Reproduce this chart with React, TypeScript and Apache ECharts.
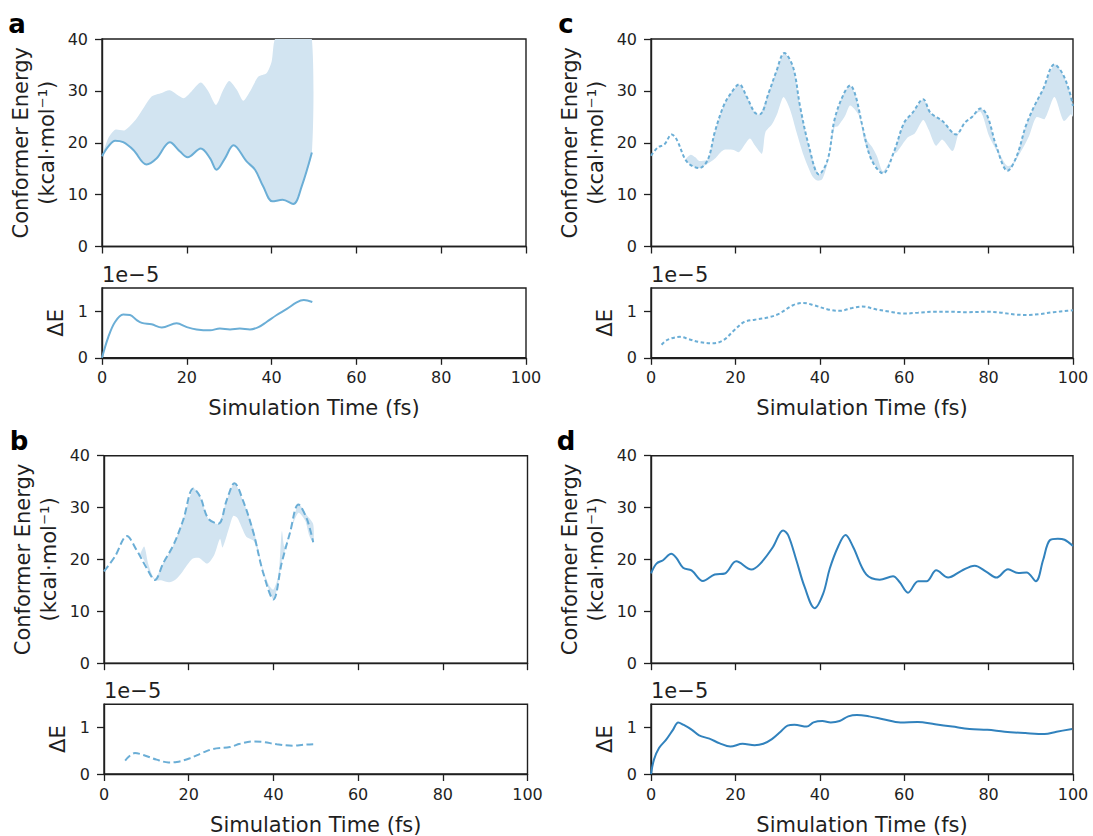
import React, { useEffect, useRef } from "react";
import * as echarts from "echarts";

// ---------- data (time in fs, energy in kcal/mol, ΔE in units of 1e-5) ----------
const xTicks = [0, 20, 40, 60, 80, 100];
const energyTicks = [0, 10, 20, 30, 40];
const deltaTicks = [0, 1];

// panel a
const aTime = [0, 1.5, 3.1, 5.0, 7.4, 10.5, 12.9, 16.0, 18.4, 20.2, 23.3, 25.5, 27.0, 29.0, 31.0, 34.1, 36.1, 38.0, 40.2, 42.6, 45.1, 47.1, 49.5];
const aMean = [17.4, 19.3, 20.4, 20.1, 18.6, 15.8, 17.0, 20.1, 18.3, 17.2, 18.9, 17.0, 14.8, 17.0, 19.5, 16.4, 14.8, 11.6, 8.7, 9.0, 8.2, 11.6, 18.1];
const aBandTime = [0, 1.5, 3.1, 5.4, 8.2, 11.7, 14.1, 16.0, 19.2, 21.1, 23.3, 25.1, 26.9, 28.6, 30.0, 31.8, 33.3, 34.9, 36.9, 38.8, 40.0, 40.8, 42.6, 45.1, 47.1, 49.5];
const aBandHigh = [17.4, 20.9, 22.5, 22.4, 24.7, 28.9, 29.6, 30.1, 28.6, 29.9, 31.6, 29.9, 27.3, 30.2, 31.9, 30.2, 28.1, 29.9, 32.75, 33.4, 35.6, 40, 40, 40, 40, 40];
const aDeTime = [0, 1.5, 3.07, 5.0, 6.6, 8.2, 9.4, 11.7, 14.1, 17.6, 20.0, 22.3, 25.5, 27.8, 30.2, 32.5, 34.9, 36.9, 38.8, 41.2, 43.6, 45.9, 47.6, 49.6];
const aDe = [0.0, 0.45, 0.77, 0.93, 0.92, 0.81, 0.75, 0.72, 0.65, 0.74, 0.66, 0.61, 0.59, 0.63, 0.61, 0.63, 0.61, 0.66, 0.77, 0.92, 1.05, 1.19, 1.24, 1.2];

// panel b
const bTime = [0, 2.6, 5.4, 7.7, 10.1, 12.0, 14.0, 16.4, 18.7, 21.1, 22.7, 24.6, 27.0, 29.0, 30.8, 32.9, 35.3, 37.6, 40.0, 41.95, 43.9, 45.9, 47.9, 49.4];
const bMean = [17.7, 20.6, 24.5, 21.8, 18.3, 16.05, 19.3, 22.8, 27.6, 33.7, 32.1, 27.9, 26.9, 31.5, 34.7, 31.2, 25.1, 17.4, 12.3, 19.3, 25.1, 30.6, 27.8, 23.3];
const bBandHiTime = [8.5, 9.5, 10.5, 12.0, 14.0, 16.4, 18.7, 21.1, 22.7, 24.6, 27.0, 29.0, 30.8, 32.9, 35.3, 37.6, 39.0, 40.0, 41.2, 42.0, 42.6, 43.9, 45.9, 47.9, 49.4];
const bBandHi = [21.0, 22.5, 19.0, 16.3, 19.3, 22.8, 27.6, 33.7, 32.1, 27.9, 26.9, 31.5, 34.7, 31.2, 25.8, 18.0, 15.0, 14.2, 17.0, 25.5, 22.5, 25.1, 30.6, 28.5, 26.8];
const bBandLoTime = [8.5, 9.5, 10.5, 12.0, 13.5, 15.4, 17.0, 18.5, 19.5, 21.0, 22.5, 24.4, 26.0, 27.4, 28.0, 29.5, 30.5, 31.5, 33.6, 35.3, 36.5, 37.6, 38.8, 40.0, 41.0, 41.95, 43.9, 45.9, 47.5, 48.5, 49.4];
const bBandLo = [21.0, 19.8, 17.8, 16.0, 16.0, 15.6, 16.2, 17.6, 18.8, 20.2, 20.3, 19.2, 20.8, 24.0, 22.3, 26.0, 28.4, 28.0, 24.4, 23.6, 21.0, 17.4, 14.5, 12.3, 14.8, 19.3, 25.1, 29.0, 27.5, 24.5, 23.3];
const bDeTime = [5.0, 7.3, 9.3, 12.4, 15.2, 17.2, 20.3, 23.1, 25.8, 29.75, 32.1, 35.3, 37.6, 40.8, 44.7, 47.1, 49.4];
const bDe = [0.29, 0.45, 0.41, 0.31, 0.25, 0.26, 0.34, 0.45, 0.54, 0.58, 0.65, 0.7, 0.69, 0.64, 0.61, 0.63, 0.64];

// panel c
const cTime = [0, 1.6, 3.2, 4.9, 6.1, 8.1, 9.4, 11.4, 13.5, 15.1, 17.2, 18.9, 20.9, 22.6, 24.6, 25.8, 27.9, 29.6, 31.6, 33.7, 35.3, 37.4, 39.8, 41.9, 43.5, 45.6, 47.2, 48.5, 50.1, 52.2, 55.0, 57.5, 60.0, 62.0, 64.5, 66.2, 69.05, 72.3, 74.4, 76.0, 78.1, 79.7, 81.8, 84.5, 86.7, 88.8, 90.85, 92.9, 95.6, 97.4, 99.0, 100];
const cMean = [17.5, 19.1, 19.7, 21.6, 20.6, 16.8, 15.7, 15.1, 16.8, 22.0, 27.1, 29.5, 31.25, 29.0, 25.8, 25.5, 29.65, 33.5, 37.3, 34.5, 27.1, 19.4, 13.9, 16.8, 24.5, 29.3, 31.05, 29.0, 23.2, 16.8, 14.1, 18.1, 23.9, 25.8, 28.4, 25.8, 24.2, 21.6, 23.9, 24.9, 26.6, 25.2, 19.4, 14.6, 17.5, 23.2, 27.1, 30.3, 35.1, 33.5, 30.3, 27.1];
const cBandHiTime = [8.1, 9.4, 10.5, 11.4, 13.5, 15.1, 17.2, 18.9, 20.9, 22.6, 24.6, 25.8, 27.9, 29.6, 31.6, 33.7, 35.3, 37.4, 39.8, 41.9, 43.5, 45.6, 47.2, 48.5, 50.1, 51.2, 52.4, 53.5, 55.0, 57.5, 60.0, 62.0, 64.5, 66.2, 69.05, 72.3, 74.4, 76.0, 78.1, 79.7, 81.8, 83.5, 84.5, 85.5, 86.7, 88.8, 90.85, 92.9, 95.6, 97.4, 99.0, 100];
const cBandHi = [16.8, 17.7, 17.2, 16.5, 16.8, 22.0, 27.1, 29.5, 31.25, 29.0, 25.8, 25.5, 29.65, 33.5, 37.3, 34.5, 27.1, 19.4, 13.9, 16.8, 24.5, 29.3, 31.05, 29.0, 23.2, 20.5, 19.2, 17.5, 14.5, 18.1, 23.9, 25.8, 28.4, 25.8, 24.2, 21.6, 23.9, 24.9, 26.6, 25.2, 19.4, 16.5, 15.5, 15.8, 17.5, 23.2, 27.1, 30.3, 35.1, 33.5, 30.3, 27.1];
const cBandLoTime = [8.1, 9.4, 11.4, 13.5, 15.1, 17.2, 19.6, 20.9, 23.4, 24.6, 26.3, 27.1, 28.7, 30.0, 31.4, 32.9, 34.5, 36.2, 38.2, 39.4, 40.6, 41.9, 43.5, 44.3, 46.0, 47.2, 49.3, 50.5, 52.2, 55.0, 57.5, 58.3, 60.8, 62.5, 64.5, 65.8, 67.5, 69.05, 71.5, 72.8, 74.4, 76.0, 78.1, 80.1, 81.8, 84.5, 87.1, 89.6, 91.3, 93.3, 95.6, 97.8, 99.5, 100];
const cBandLo = [16.8, 15.7, 15.1, 16.0, 16.9, 18.6, 18.6, 18.2, 20.8, 19.5, 17.9, 22.0, 23.6, 25.8, 28.8, 26.5, 22.0, 17.5, 13.6, 12.7, 13.0, 16.3, 23.0, 23.2, 25.2, 27.2, 25.2, 20.6, 16.8, 14.1, 17.8, 18.2, 21.0, 21.8, 24.4, 22.5, 19.4, 20.6, 18.4, 21.6, 23.9, 24.9, 26.0, 21.3, 18.6, 14.6, 17.5, 21.3, 24.9, 24.6, 28.8, 24.2, 25.5, 25.0];
const cDeTime = [2.5, 4.0, 6.9, 9.0, 11.4, 14.7, 17.2, 19.7, 22.1, 24.6, 27.9, 30.4, 33.65, 36.1, 38.6, 41.9, 44.8, 47.65, 50.1, 53.4, 56.7, 60.0, 63.3, 67.4, 70.7, 74.8, 79.7, 83.0, 86.3, 89.2, 92.1, 95.4, 98.7, 100];
const cDe = [0.28, 0.39, 0.45, 0.4, 0.34, 0.31, 0.38, 0.59, 0.77, 0.82, 0.87, 0.95, 1.13, 1.18, 1.13, 1.04, 1.01, 1.07, 1.1, 1.04, 0.99, 0.95, 0.97, 0.99, 0.99, 0.98, 0.99, 0.97, 0.93, 0.92, 0.94, 0.98, 1.01, 1.02];

// panel d
const dTime = [0, 1.3, 2.85, 4.8, 6.0, 7.6, 9.6, 12.3, 15.1, 17.5, 20.2, 23.8, 25.8, 28.9, 31.3, 32.5, 34.45, 36.4, 38.8, 40.8, 42.35, 44.3, 46.1, 47.9, 51.0, 54.2, 57.35, 58.9, 60.9, 63.3, 65.3, 67.6, 70.4, 73.55, 76.7, 79.5, 81.85, 84.6, 87.0, 89.0, 91.2, 92.9, 94.5, 96.4, 98.0, 100];
const dMean = [17.3, 19.2, 19.85, 21.1, 20.3, 18.4, 17.9, 15.85, 17.1, 17.3, 19.65, 18.05, 19.1, 22.4, 25.6, 24.7, 19.85, 14.7, 10.6, 13.4, 18.2, 22.4, 24.7, 22.4, 17.1, 16.1, 16.75, 15.65, 13.6, 15.8, 15.8, 17.9, 16.5, 17.8, 18.8, 17.6, 16.5, 18.1, 17.4, 17.5, 15.8, 19.85, 23.7, 24.0, 23.8, 22.6];
const dDeTime = [0, 0.7, 1.9, 3.6, 5.2, 6.45, 7.65, 9.7, 11.4, 13.85, 16.3, 18.8, 21.7, 24.55, 26.6, 28.65, 30.7, 32.35, 34.0, 36.9, 38.5, 40.6, 42.6, 44.7, 46.75, 48.8, 51.7, 55.0, 59.1, 63.2, 67.3, 71.4, 75.5, 79.7, 83.8, 88.7, 93.25, 96.1, 99.8];
const dDe = [0.0, 0.31, 0.56, 0.74, 0.95, 1.11, 1.06, 0.95, 0.83, 0.76, 0.66, 0.59, 0.65, 0.62, 0.65, 0.75, 0.91, 1.04, 1.06, 1.02, 1.11, 1.14, 1.11, 1.14, 1.24, 1.27, 1.24, 1.18, 1.11, 1.12, 1.07, 1.02, 0.97, 0.95, 0.91, 0.88, 0.86, 0.91, 0.97];

// ---------- styling / layout ----------
const FONT = "DejaVu Sans";
const INK = "#1f1f1f";
const LIGHT = "#6baed6";
const DARK = "#3182bd";
const BAND = "#d2e4f1";

const zip = (t: number[], v: number[]) => t.map((x, i) => [x, v[i]]);

type Panel = {
  letter: string;
  left: number;
  width: number;
  top: number;
  deTop: number;
  color: string;
  dash: number[] | "solid";
  time: number[];
  mean: number[];
  deTime: number[];
  de: number[];
  band?: { hiT: number[]; hi: number[]; loT: number[]; lo: number[] };
};

const panels: Panel[] = [
  { letter: "a", left: 102, width: 424, top: 39, deTop: 288, color: LIGHT, dash: "solid", time: aTime, mean: aMean, deTime: aDeTime, de: aDe,
    band: { hiT: aBandTime, hi: aBandHigh, loT: aTime, lo: aMean } },
  { letter: "b", left: 104, width: 423.5, top: 455.7, deTop: 704.3, color: LIGHT, dash: [7, 3.5], time: bTime, mean: bMean, deTime: bDeTime, de: bDe,
    band: { hiT: bBandHiTime, hi: bBandHi, loT: bBandLoTime, lo: bBandLo } },
  { letter: "c", left: 651, width: 422, top: 39, deTop: 288, color: LIGHT, dash: [3.5, 2.5], time: cTime, mean: cMean, deTime: cDeTime, de: cDe,
    band: { hiT: cBandHiTime, hi: cBandHi, loT: cBandLoTime, lo: cBandLo } },
  { letter: "d", left: 651, width: 422, top: 455.7, deTop: 704.3, color: DARK, dash: "solid", time: dTime, mean: dMean, deTime: dDeTime, de: dDe },
];

function buildOption() {
  const grid: any[] = [];
  const xAxis: any[] = [];
  const yAxis: any[] = [];
  const series: any[] = [];
  const graphic: any[] = [];

  const axisLine = { show: true, lineStyle: { color: INK, width: 1.4 } };
  const axisTick = (vals: number[]) => ({ show: true, inside: false, length: 7, lineStyle: { color: INK, width: 1.3 }, customValues: vals });

  panels.forEach((p) => {
    const gTop = grid.length;
    grid.push({ left: p.left, width: p.width, top: p.top, height: 207.5, show: true, borderColor: INK, borderWidth: 1.4, backgroundColor: "transparent" });
    const gDe = grid.length;
    grid.push({ left: p.left, width: p.width, top: p.deTop, height: 69.8, show: true, borderColor: INK, borderWidth: 1.4, backgroundColor: "transparent" });

    xAxis.push({ gridIndex: gTop, type: "value", min: 0, max: 100, interval: 20, axisLine, axisTick: axisTick(xTicks), axisLabel: { show: false }, splitLine: { show: false } });
    xAxis.push({
      gridIndex: gDe, type: "value", min: 0, max: 100, interval: 20, axisLine, axisTick: axisTick(xTicks),
      axisLabel: { show: true, customValues: xTicks, fontSize: 16, color: INK, margin: 12, fontFamily: FONT },
      splitLine: { show: false },
      name: "Simulation Time (fs)", nameLocation: "middle", nameGap: 40,
      nameTextStyle: { fontSize: 21, color: INK, fontFamily: FONT },
    });
    yAxis.push({
      gridIndex: gTop, type: "value", min: 0, max: 40, interval: 10, axisLine, axisTick: axisTick(energyTicks),
      axisLabel: { show: true, customValues: energyTicks, fontSize: 16, color: INK, margin: 14, fontFamily: FONT },
      splitLine: { show: false },
      name: "Conformer Energy\n(kcal·mol⁻¹)", nameLocation: "middle", nameGap: 42, nameRotate: 90,
      nameTextStyle: { fontSize: 21, lineHeight: 26, color: INK, fontFamily: FONT, align: "center" },
    });
    yAxis.push({
      gridIndex: gDe, type: "value", min: 0, max: 1.5, interval: 1, axisLine, axisTick: axisTick(deltaTicks),
      axisLabel: { show: true, customValues: deltaTicks, fontSize: 16, color: INK, margin: 14, fontFamily: FONT,
        formatter: (v: number) => (Number.isInteger(v) ? String(v) : "") },
      splitLine: { show: false },
      name: "ΔE", nameLocation: "middle", nameGap: 36, nameRotate: 90,
      nameTextStyle: { fontSize: 21, color: INK, fontFamily: FONT },
    });

    if (p.band) {
      const b = p.band;
      series.push({
        type: "custom", xAxisIndex: gTop, yAxisIndex: gTop, silent: true, z: 1,
        data: [[b.hiT[0], b.hi[0]]],
        renderItem: (params: any, api: any) => {
          const pts: number[][] = [];
          b.hiT.forEach((t, i) => pts.push(api.coord([t, b.hi[i]])));
          for (let i = b.loT.length - 1; i >= 0; i--) pts.push(api.coord([b.loT[i], b.lo[i]]));
          const cs = params.coordSys;
          return {
            type: "group",
            clipPath: { type: "rect", shape: { x: cs.x, y: cs.y, width: cs.width, height: cs.height } },
            children: [{ type: "polygon", shape: { points: pts, smooth: 0.25 }, style: { fill: BAND } }],
          };
        },
      });
    }

    const lineStyle = { color: p.color, width: 2, type: p.dash, cap: "butt" };
    series.push({ type: "line", xAxisIndex: gTop, yAxisIndex: gTop, data: zip(p.time, p.mean), showSymbol: false, smooth: 0.35, lineStyle, z: 3, silent: true });
    series.push({ type: "line", xAxisIndex: gDe, yAxisIndex: gDe, data: zip(p.deTime, p.de), showSymbol: false, smooth: 0.35, lineStyle, z: 3, silent: true });

    graphic.push({
      type: "text", x: p.left - 85, y: p.top - 15,
      style: { text: p.letter, font: `bold 26px "${FONT}"`, fill: "#000", textAlign: "center", textVerticalAlign: "middle", align: "center", verticalAlign: "middle" },
    });
    graphic.push({
      type: "text", x: p.left, y: p.deTop - 13,
      style: { text: "1e−5", font: `21px "${FONT}"`, fill: INK, textAlign: "left", textVerticalAlign: "middle", align: "left", verticalAlign: "middle" },
    });
  });

  return { animation: false, backgroundColor: "#ffffff", textStyle: { fontFamily: FONT }, grid, xAxis, yAxis, series, graphic };
}

export default function App() {
  const ref = useRef<HTMLDivElement>(null);
  useEffect(() => {
    if (!ref.current) return;
    const chart = echarts.init(ref.current, undefined, { renderer: "svg" });
    chart.setOption(buildOption() as any);
    return () => chart.dispose();
  }, []);
  return <div ref={ref} style={{ position: "fixed", left: 0, top: 0, width: 1093, height: 836, background: "#fff" }} />;
}
